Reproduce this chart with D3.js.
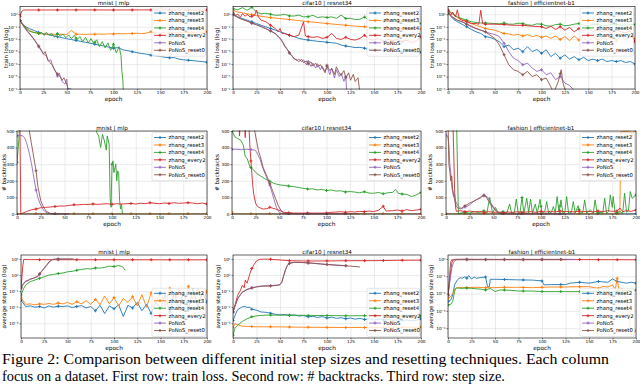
<!DOCTYPE html>
<html><head><meta charset="utf-8">
<script src="https://cdn.jsdelivr.net/npm/d3@7/dist/d3.min.js"></script>
<style>body{margin:0;background:#fff}svg{display:block}</style>
</head><body>
<svg id="c" width="640" height="385"></svg>
<script>
// ---------------- data ----------------
const SERIES = ["zhang_reset2","zhang_reset3","zhang_reset4","zhang_every2","PoNoS","PoNoS_reset0"];
const TITLES = ["mnist | mlp","cifar10 | resnet34","fashion | efficientnet-b1"];
const X_TICKS = [0,25,50,75,100,125,150,175,200];
const LOSS_TICKS = [1,1e-1,1e-2,1e-3,1e-4,1e-5,1e-6];
const BT_TICKS = [0,100,200,300,400,500];
const STEP_TICKS_A = [10,1,0.1,0.01,0.001];
const STEP_TICKS_B = [1,0.1,0.01,0.001,0.0001];
const E5 = [0,5,10,15,20,25,30,35,40,45,50,55,60,65,70,75,80,85,90,95,100,105,110,115,120,125,130,135,140,145,150,155,160,165,170,175,180,185,190,195,200];

// train loss – mnist | mlp
const lossMnist_reset2 = [3.2e-1,1.1e-1,7.1e-2,5.0e-2,3.5e-2,2.8e-2,2.3e-2,1.9e-2,1.6e-2,1.3e-2,1.1e-2,9.3e-3,7.9e-3,6.6e-3,5.6e-3,4.7e-3,4.0e-3,3.3e-3,2.8e-3,2.3e-3,1.9e-3,2.1e-3,1.4e-3,1.2e-3,1.0e-3,8.3e-4,7.1e-4,6.3e-4,5.2e-4,4.7e-4,4.2e-4,3.5e-4,3.2e-4,3.3e-4,2.5e-4,2.2e-4,2.0e-4,1.9e-4,1.7e-4,1.6e-4,1.4e-4];
const lossMnist_reset3 = [3.2e-1,1.0e-1,5.0e-2,3.5e-2,2.8e-2,2.6e-2,2.5e-2,2.5e-2,2.4e-2,2.5e-2,2.4e-2,5.0e-2,2.5e-2,2.5e-2,2.4e-2,2.5e-2,2.5e-2,2.6e-2,2.5e-2,2.7e-2,2.6e-2,2.8e-2,2.7e-2,2.8e-2,2.8e-2,3.0e-2,2.8e-2,3.0e-2,4.0e-2,3.0e-2,3.2e-2,3.2e-2,3.2e-2,3.4e-2,3.2e-2,3.5e-2,3.4e-2,3.5e-2,3.7e-2,3.5e-2,4.0e-2];
const lossMnist_reset4 = [[0,3.2e-1],[3,1.4e-1],[6,8.9e-2],[10,4.5e-2],[14,3.5e-2],[18,3.2e-2],[20,2.8e-2],[23,3.5e-2],[26,2.0e-2],[28,3.5e-2],[31,2.2e-2],[34,2.8e-2],[37,1.4e-2],[40,2.8e-2],[43,1.8e-2],[46,2.5e-2],[49,1.3e-2],[52,2.2e-2],[55,1.1e-2],[58,2.0e-2],[61,8.9e-3],[64,1.6e-2],[67,6.3e-3],[70,1.4e-2],[73,5.0e-3],[76,1.1e-2],[79,4.5e-3],[82,8.9e-3],[85,2.5e-3],[88,6.3e-3],[91,2.0e-3],[94,5.0e-3],[97,1.3e-3],[100,4.0e-3],[103,7.9e-4],[106,2.5e-3],[108,5.0e-4],[109,2.5e-5],[110,5.0e-6],[111,1e-7]];
const lossMnist_every2 = [[0,0.7],[2,1.8],[4,2.2],[30,2.2],[60,2.25],[100,2.2],[140,2.25],[170,2.2],[200,2.2]];
const lossMnist_PoNoS = [[0,3.2e-1],[4,1.0e-1],[8,4.0e-2],[12,1.8e-2],[16,7.1e-3],[20,2.5e-3],[23,1.1e-3],[26,5.6e-4],[28,5.0e-4],[30,1.8e-4],[33,2.2e-4],[35,6.3e-5],[38,2.8e-5],[40,1.1e-5],[42,1.8e-5],[45,4.0e-6],[48,2.5e-6],[50,6.3e-6],[51,1.1e-6],[55,1.0e-6]];
const lossMnist_PoNoS_reset0 = [[0,3.2e-1],[4,1.1e-1],[8,4.5e-2],[12,2.0e-2],[16,7.9e-3],[20,2.8e-3],[23,1.3e-3],[25,6.3e-4],[27,1.0e-3],[30,2.0e-4],[32,1.3e-4],[35,7.9e-5],[37,3.2e-5],[40,1.6e-5],[43,1.0e-5],[45,5.0e-6],[47,7.9e-6],[50,2.5e-6],[52,6.3e-7]];

// train loss – cifar10 | resnet34
const lossCifar_reset2 = [1.13,0.61,0.45,0.33,0.25,0.18,0.13,0.098,0.072,0.053,0.039,0.029,0.021,0.016,0.0115,0.0096,0.0085,0.0076,0.0067,0.0063,0.0056,0.0052,0.0047,0.0034,0.0028,0.0025,0.0021,0.0022,0.0019,0.0015,0.0014,0.0015,0.0012,0.0014,0.001,0.00115,0.001,0.00095,0.001,0.00083,0.00089];
const lossCifar_reset3 = [[0,2.1],[5,1.5],[10,1.3],[15,1.1],[20,0.94],[25,0.78],[30,0.69],[40,0.54],[50,0.45],[60,0.38],[75,0.28],[100,0.18],[125,0.12],[150,0.087],[175,0.072],[200,0.065]];
const lossCifar_reset4 = [2.8,2.3,3.4,2.1,3.6,1.5,1.1,1.2,1.0,0.83,0.85,1.0,0.74,0.72,0.85,0.62,0.64,0.82,0.54,0.62,0.55,0.62,0.46,0.85,0.46,0.47,0.38,0.4,0.6,0.33,0.30,0.31,0.29,0.33,0.29,0.25,0.29,0.24,0.23,0.24,0.18];
const lossCifar_every2 = [[0,1.26],[3,0.83],[5,1.0],[8,0.61],[10,1.13],[13,0.69],[15,1.0],[18,0.61],[20,0.69],[23,0.83],[25,2.1],[27,0.61],[30,0.33],[35,0.25],[40,0.13],[45,0.072],[48,0.04],[50,0.072],[52,0.029],[55,0.029],[60,0.021],[65,0.016],[70,0.021],[75,0.25],[77,0.018],[80,0.016],[85,0.014],[90,0.016],[95,0.0115],[100,0.014],[105,0.029],[110,0.0115],[115,0.0096],[120,0.014],[125,0.0096],[130,0.0085],[135,0.0115],[140,0.021],[145,0.0096],[150,0.0085],[155,0.0115],[160,0.0063],[165,0.0096],[170,0.0076],[175,0.0096],[180,0.0063],[185,0.0085],[190,0.0052],[195,0.0076],[200,0.016]];
const lossCifar_PoNoS = [[0,0.9],[5,0.61],[10,0.4],[15,0.3],[20,0.2],[25,0.15],[30,0.11],[35,0.072],[40,0.047],[45,0.029],[50,0.0115],[53,0.0052],[55,0.0025],[58,0.0014],[60,7.4e-4],[63,4.0e-4],[65,3.0e-4],[68,1.9e-4],[70,2.5e-4],[73,1.6e-4],[75,2.2e-4],[78,8.7e-5],[80,1.6e-4],[83,6.5e-5],[85,1.2e-4],[88,4.8e-5],[90,1.05e-4],[93,3.5e-5],[95,6.5e-5],[98,2.6e-5],[100,6.5e-5],[103,1.4e-5],[105,4.8e-5],[108,7.6e-6],[110,3.5e-5],[113,1.0e-5],[115,1.9e-5],[118,4.1e-6],[120,1.0e-5],[121,5e-7]];
const lossCifar_PoNoS_reset0 = [[0,0.9],[5,0.55],[10,0.38],[15,0.28],[20,0.19],[25,0.14],[30,0.1],[35,0.068],[40,0.045],[45,0.027],[50,0.012],[53,0.006],[55,0.003],[58,0.0015],[60,8e-4],[63,4.5e-4],[65,2.6e-4],[68,2.2e-4],[70,1.6e-4],[73,2.4e-4],[75,1.3e-4],[78,1.8e-4],[80,1.0e-4],[83,1.5e-4],[85,7e-5],[88,1.2e-4],[90,6e-5],[93,9e-5],[95,5e-5],[98,2e-5],[100,8e-5],[103,3e-5],[105,4.5e-5],[108,1.5e-5],[110,6e-5],[113,2e-5],[115,1.2e-5],[118,3e-5],[120,8e-6],[123,2e-5],[125,5e-6],[128,1.5e-5],[130,4e-6],[133,8e-6],[135,5e-7]];

// train loss – fashion | efficientnet-b1
const lossFashion_reset2 = [1.5,0.45,0.25,0.16,0.098,0.06,0.039,0.029,0.016,0.014,0.0096,0.0063,0.0025,0.0034,0.0014,0.0019,0.001,0.0025,0.001,0.0015,7.4e-4,0.0014,4.0e-4,7.4e-4,3.0e-4,5.5e-4,2.5e-4,4.0e-4,2.2e-4,3.5e-4,1.9e-4,2.5e-4,1.9e-4,2.5e-4,1.6e-4,1.9e-4,1.6e-4,1.9e-4,1.35e-4,1.6e-4,1.0e-4];
const lossFashion_reset3 = [2.1,1.0,0.54,0.38,0.28,0.18,0.13,0.098,0.072,0.06,0.053,0.039,0.029,0.026,0.021,0.024,0.018,0.023,0.016,0.02,0.014,0.018,0.0115,0.018,0.0096,0.016,0.0076,0.018,0.0085,0.014,0.0063,0.016,0.0085,0.014,0.0096,0.016,0.0076,0.018,0.0096,0.014,0.0115];
const lossFashion_reset4 = [2.1,1.1,0.61,0.45,0.33,0.25,0.22,0.2,0.2,0.19,0.18,0.17,0.2,0.16,0.16,0.19,0.18,0.14,0.13,0.17,0.16,0.12,0.11,0.15,0.16,0.12,0.13,0.16,0.18,0.12,0.125,0.15,0.16,0.12,0.13,0.15,0.16,0.13,0.13,0.15,0.15];
const lossFashion_every2 = [[0,2.1],[3,0.83],[5,1.5],[8,0.61],[10,2.3],[12,0.45],[15,0.33],[20,0.25],[25,0.18],[30,0.18],[33,0.16],[35,2.1],[37,0.18],[40,0.16],[50,0.16],[60,0.15],[70,0.13],[80,0.13],[90,0.11],[100,0.098],[105,0.072],[110,0.11],[115,0.06],[120,0.098],[125,0.053],[130,0.087],[135,0.039],[140,0.072],[145,0.047],[150,0.087],[155,0.039],[160,0.06],[165,0.039],[170,0.053],[175,0.029],[180,0.06],[185,0.039],[190,0.033],[195,0.047],[200,0.0063]];
const lossFashion_PoNoS = [1.26,0.61,0.33,0.25,0.16,0.098,0.072,0.053,0.039,0.029,0.024,0.016,0.0047,0.001,3.0e-4,1.9e-4,8.7e-5,1.2e-4,4.8e-5,2.6e-5,3.5e-5,1.4e-5,2.0e-5,5.6e-6,1.0e-5,3.0e-6,1.9e-6,8e-7];
const lossFashion_PoNoS_reset0 = [[0,1.13],[5,0.54],[10,0.33],[15,0.25],[20,0.16],[25,0.11],[30,0.072],[35,0.053],[40,0.039],[45,0.021],[50,0.0115],[55,0.0034],[60,5.5e-4],[65,8.7e-5],[70,3.5e-5],[75,2.6e-5],[80,1.4e-5],[85,2.6e-5],[90,1.0e-5],[95,1.4e-5],[100,5.6e-6],[105,7.6e-6],[110,1.5e-6],[113,5e-7],[118,4e-6],[121,3.5e-5],[123,3e-6],[126,5e-7]];

// # backtracks – mnist | mlp
const btMnist_reset2 = [[0,0],[200,0]];
const btMnist_reset3 = [[0,0],[200,0]];
const btMnist_reset4 = [[0,310],[2,450],[3,600],[83,600],[84,490],[86,470],[88,400],[90,480],[92,440],[94,385],[95,470],[97,420],[98,100],[99,40],[100,300],[101,320],[102,250],[104,300],[105,200],[106,260],[107,250],[108,80],[109,30],[110,60],[111,0]];
const btMnist_every2 = [[0,600],[3,600],[4,0],[6,5],[10,15],[15,25],[20,30],[25,38],[30,40],[35,42],[40,45],[45,48],[50,48],[55,52],[60,55],[65,55],[70,58],[75,57],[80,60],[85,58],[90,60],[95,62],[100,58],[105,62],[110,60],[115,62],[120,64],[125,60],[130,65],[135,62],[140,68],[145,64],[150,62],[155,66],[160,64],[165,68],[170,64],[175,66],[180,68],[185,66],[190,62],[195,66],[200,60]];
const btMnist_PoNoS = [[0,470],[3,475],[6,470],[8,460],[10,430],[13,365],[15,310],[17,245],[20,145],[22,100],[24,66],[27,30],[29,16],[33,3],[36,0],[55,0]];
const btMnist_PoNoS_reset0 = [[0,600],[12,600],[13,500],[15,430],[17,365],[20,260],[22,165],[25,80],[28,40],[31,16],[35,3],[38,0],[55,0]];

// # backtracks – cifar10 | resnet34
const btCifar_reset2 = [[0,0],[200,0]];
const btCifar_reset3 = [[0,10],[2,2],[4,0],[200,0]];
const btCifar_reset4 = [[0,500],[3,465],[6,455],[9,445],[12,415],[14,345],[16,335],[19,285],[23,265],[26,245],[30,230],[34,215],[37,205],[41,195],[44,185],[47,180],[51,175],[55,172],[60,168],[65,165],[70,160],[75,155],[80,150],[85,152],[90,145],[95,148],[100,141],[105,145],[110,138],[115,140],[120,133],[125,135],[130,132],[135,128],[140,134],[145,126],[150,125],[155,130],[160,122],[165,128],[170,130],[173,148],[176,125],[180,120],[185,118],[190,105],[195,115],[200,130]];
const btCifar_every2 = [[0,600],[7,600],[8,470],[9,600],[13,600],[14,460],[15,600],[18,520],[19,400],[20,320],[22,170],[23,120],[25,65],[27,45],[30,36],[33,30],[37,32],[40,40],[43,35],[46,30],[50,22],[55,10],[60,8],[65,6],[70,5],[80,6],[90,5],[100,6],[105,10],[110,12],[115,14],[120,10],[125,14],[130,12],[135,16],[140,14],[145,18],[150,15],[155,22],[160,46],[163,18],[170,20],[175,24],[180,18],[185,26],[190,20],[195,24],[200,28]];
const btCifar_PoNoS = [[0,390],[5,390],[10,388],[15,390],[20,388],[24,385],[26,375],[30,325],[33,270],[37,215],[40,175],[44,96],[47,40],[50,10],[53,2],[56,0],[121,0]];
const btCifar_PoNoS_reset0 = [[0,600],[22,600],[24,500],[28,380],[30,345],[33,280],[36,240],[40,185],[43,140],[46,95],[49,50],[52,20],[55,5],[58,0],[135,0]];

// # backtracks – fashion | efficientnet-b1
const btFashion_reset2 = [[0,0],[200,0]];
const btFashion_reset3 = [[0,0],[183,0],[184,495],[190,498],[195,492],[196,460],[197,495],[200,498]];
const btFashion_reset4 = [[0,600],[11,600],[12,300],[13,0],[15,5],[20,10],[25,5],[30,15],[35,8],[40,20],[43,5],[46,100],[49,5],[52,40],[55,5],[60,15],[64,5],[67,60],[69,5],[72,10],[74,90],[76,5],[78,10],[80,100],[82,5],[85,95],[87,8],[89,90],[91,5],[94,60],[96,5],[99,88],[101,5],[104,15],[106,75],[108,5],[111,10],[113,45],[115,8],[117,105],[119,10],[121,85],[123,5],[125,10],[127,105],[129,5],[132,10],[134,75],[136,5],[139,50],[141,5],[144,10],[146,85],[148,5],[152,25],[155,5],[157,85],[159,5],[162,10],[165,5],[167,95],[169,5],[171,15],[173,115],[175,40],[176,105],[178,5],[181,10],[183,15],[186,5],[188,125],[190,10],[192,20],[194,135],[196,95],[198,105],[200,115]];
const btFashion_every2 = [[0,600],[7,600],[8,400],[9,150],[10,40],[11,16],[15,20],[20,14],[25,18],[30,12],[35,16],[40,10],[45,14],[50,10],[55,12],[60,8],[65,12],[70,10],[75,14],[80,10],[85,12],[90,14],[95,10],[100,16],[105,12],[110,16],[115,12],[120,18],[125,14],[130,16],[135,12],[140,18],[145,14],[150,16],[155,12],[160,18],[165,14],[170,20],[175,16],[180,18],[183,36],[186,14],[190,20],[195,16],[200,24]];
const btFashion_PoNoS = [[0,474],[2,464],[3,420],[4,300],[5,250],[6,170],[7,130],[8,105],[9,120],[10,80],[11,66],[13,50],[15,36],[17,30],[19,40],[22,46],[25,56],[29,76],[32,86],[36,100],[38,110],[40,115],[42,108],[44,100],[46,76],[48,60],[50,42],[53,16],[57,6],[60,0],[135,0]];
const btFashion_PoNoS_reset0 = [[0,600],[2,600],[3,300],[4,260],[5,200],[6,230],[7,150],[8,120],[9,90],[11,42],[13,35],[15,30],[18,42],[22,56],[25,66],[29,76],[32,86],[36,96],[39,110],[41,110],[43,96],[46,66],[50,36],[53,16],[57,2],[60,0],[126,0]];

// average step size – mnist | mlp
const stepMnist_reset2 = [0.028,0.011,0.012,0.01,0.011,0.009,0.012,0.01,0.0115,0.011,0.012,0.0095,0.011,0.0125,0.009,0.011,0.006,0.013,0.004,0.012,0.008,0.014,0.0026,0.013,0.009,0.02,0.006,0.015,0.004,0.02,0.008,0.06,0.005,0.08,0.007,0.1,0.006,0.15,0.01,0.08,0.02];
const stepMnist_reset3 = [0.04,0.015,0.016,0.014,0.016,0.015,0.017,0.015,0.018,0.016,0.02,0.015,0.022,0.016,0.025,0.015,0.03,0.014,0.05,0.016,0.04,0.012,0.035,0.02,0.045,0.012,0.06,0.01,0.08,0.015,0.1,0.012,0.15,0.02,0.12,0.015,0.2,0.03,0.15,0.02,0.1];
const stepMnist_reset4 = [[0,0.057],[3,0.15],[5,0.24],[10,0.39],[15,0.49],[20,0.63],[25,0.79],[30,1.0],[35,1.1],[40,1.25],[45,1.35],[50,1.6],[55,1.7],[60,2.0],[65,2.2],[70,2.5],[75,2.4],[80,2.8],[85,2.7],[90,3.0],[95,3.6],[100,3.4],[105,3.9],[108,3.5],[110,3.0],[112,2.0]];
const stepMnist_every2 = [[0,0.15],[2,4],[3,9.5],[10,9.2],[50,9.0],[100,9.0],[150,8.9],[200,8.9]];
const stepMnist_PoNoS = [[0,0.19],[3,0.31],[5,0.43],[8,0.49],[10,0.57],[13,0.63],[15,0.69],[18,0.79],[20,1.1],[22,1.6],[25,2.6],[28,4.2],[30,6.2],[33,8.7],[35,9.5],[40,10],[45,10],[50,10],[55,10]];
const stepMnist_PoNoS_reset0 = [[0,0.17],[3,0.29],[5,0.4],[8,0.47],[10,0.55],[13,0.62],[15,0.7],[18,0.85],[20,1.2],[22,1.7],[25,2.8],[28,4.5],[30,6.5],[33,9],[35,9.6],[40,10],[50,10],[57,10]];

// average step size – cifar10 | resnet34
const stepCifar_reset2 = [[0,0.0015],[3,0.004],[5,0.007],[8,0.009],[10,0.0105],[13,0.011],[15,0.0095],[18,0.01],[20,0.0075],[25,0.0065],[30,0.005],[35,0.0048],[40,0.0042],[45,0.0036],[50,0.0033],[55,0.0035],[60,0.0031],[65,0.0033],[70,0.0028],[75,0.003],[80,0.0025],[85,0.0027],[90,0.0023],[95,0.0026],[100,0.0021],[105,0.0024],[110,0.002],[115,0.0022],[120,0.0019],[125,0.0021],[130,0.0018],[135,0.002],[140,0.0017],[145,0.0019],[150,0.0016],[155,0.0018],[160,0.0016],[165,0.0017],[170,0.0015],[175,0.0016],[180,0.0015],[185,0.0016],[190,0.0014],[195,0.0015],[200,0.0019]];
const stepCifar_reset3 = [[0,5.5e-4],[2,9.5e-4],[5,8.0e-4],[10,6.5e-4],[25,6.0e-4],[50,5.9e-4],[75,5.6e-4],[100,5.5e-4],[125,5.4e-4],[150,5.5e-4],[175,5.6e-4],[200,5.7e-4]];
const stepCifar_reset4 = [[0,1.8e-4],[2,4.7e-4],[5,7.4e-4],[10,0.0013],[15,0.0019],[20,0.0025],[25,0.0029],[35,0.0032],[50,0.0032],[75,0.0031],[100,0.003],[125,0.0029],[150,0.003],[175,0.0029],[200,0.0028]];
const stepCifar_every2 = [[0,0.005],[3,0.021],[5,0.056],[8,0.115],[10,0.23],[12,0.16],[13,0.49],[15,0.31],[17,0.79],[18,1.26],[20,2.6],[22,4.2],[25,7.5],[28,9.5],[35,10],[40,9.6],[50,8.7],[60,7.9],[75,7.5],[100,7.6],[125,7.9],[150,7.9],[175,8.3],[200,8.5]];
const stepCifar_PoNoS = [[0,0.005],[3,0.017],[5,0.035],[8,0.062],[10,0.09],[15,0.13],[20,0.16],[25,0.19],[30,0.21],[40,0.22],[48,0.24],[50,0.26],[52,0.4],[54,1.0],[56,2.4],[58,4.3],[60,5.5],[65,6.3],[75,6.0],[85,5.5],[100,4.6],[110,4.2],[121,3.9]];
const stepCifar_PoNoS_reset0 = [[0,0.005],[3,0.016],[5,0.033],[8,0.06],[10,0.085],[15,0.125],[20,0.155],[25,0.18],[30,0.2],[40,0.21],[48,0.23],[50,0.25],[52,0.35],[54,0.9],[56,2.2],[58,4.0],[60,5.3],[65,6.2],[75,6.0],[85,5.4],[100,4.5],[110,4.1],[125,3.6],[135,3.2]];

// average step size – fashion | efficientnet-b1
const stepFashion_reset2 = [[0,0.0035],[3,0.0043],[5,0.0083],[7,0.032],[10,0.062],[13,0.083],[15,0.076],[18,0.095],[20,0.076],[22,0.11],[25,0.07],[28,0.09],[30,0.076],[35,0.085],[40,0.09],[42,0.025],[44,0.025],[45,0.067],[50,0.067],[60,0.065],[75,0.062],[90,0.06],[100,0.054],[102,0.032],[110,0.033],[125,0.033],[130,0.04],[140,0.045],[150,0.04],[160,0.05],[170,0.045],[175,0.07],[180,0.05],[190,0.04],[195,0.045],[200,0.04]];
const stepFashion_reset3 = [[0,0.0054],[3,0.0068],[5,0.0105],[8,0.02],[10,0.022],[20,0.022],[30,0.023],[40,0.022],[50,0.022],[60,0.023],[75,0.023],[90,0.022],[100,0.023],[110,0.024],[125,0.024],[140,0.025],[150,0.025],[160,0.02],[165,0.026],[170,0.024],[175,0.032],[178,0.017],[180,0.077],[182,0.013],[185,0.02],[188,0.0084],[190,0.0035],[193,2.4e-4],[195,4.1e-5],[198,6e-5],[200,7e-5]];
const stepFashion_reset4 = [[0,0.0022],[3,0.0024],[5,0.0035],[7,0.013],[8,0.02],[10,0.021],[15,0.02],[20,0.021],[25,0.02],[30,0.019],[35,0.018],[40,0.016],[45,0.02],[50,0.013],[55,0.016],[60,0.016],[70,0.015],[75,0.014],[90,0.014],[100,0.013],[125,0.013],[150,0.013],[175,0.013],[200,0.016]];
const stepFashion_every2 = [[0,0.0083],[2,0.076],[4,0.56],[5,0.85],[8,0.95],[20,0.95],[50,0.93],[100,0.92],[150,0.92],[200,0.9]];
const stepFashion_PoNoS = [[0,0.0083],[2,0.05],[4,0.3],[6,0.65],[8,0.85],[10,0.95],[135,0.95]];
const stepFashion_PoNoS_reset0 = [[0,0.0083],[1,0.03],[2,0.2],[3,0.7],[4,0.9],[126,0.92]];

// ---------------- layout ----------------
const COLORS = ["#1f77b4","#ff7f0e","#2ca02c","#d62728","#9467bd","#8c564b"];
const GEOM = [
  [[20,207],[233,421],[448,635]],
  [[17,207],[232,421],[446,636]],
  [[21,207],[233,421],[448,636]]
];
const ROWY = [[6.5,89],[131,214],[255,338]];
const YLABX = [[6,217,432],[4,217,430],[4,218,431]];
const LEGX = [152,367,580];
const FONT = "DejaVu Sans, sans-serif";

const PANELS = [
  {r:0,c:0,data:[lossMnist_reset2,lossMnist_reset3,lossMnist_reset4,lossMnist_every2,lossMnist_PoNoS,lossMnist_PoNoS_reset0]},
  {r:0,c:1,data:[lossCifar_reset2,lossCifar_reset3,lossCifar_reset4,lossCifar_every2,lossCifar_PoNoS,lossCifar_PoNoS_reset0]},
  {r:0,c:2,data:[lossFashion_reset2,lossFashion_reset3,lossFashion_reset4,lossFashion_every2,lossFashion_PoNoS,lossFashion_PoNoS_reset0]},
  {r:1,c:0,data:[btMnist_reset2,btMnist_reset3,btMnist_reset4,btMnist_every2,btMnist_PoNoS,btMnist_PoNoS_reset0]},
  {r:1,c:1,data:[btCifar_reset2,btCifar_reset3,btCifar_reset4,btCifar_every2,btCifar_PoNoS,btCifar_PoNoS_reset0]},
  {r:1,c:2,data:[btFashion_reset2,btFashion_reset3,btFashion_reset4,btFashion_every2,btFashion_PoNoS,btFashion_PoNoS_reset0]},
  {r:2,c:0,data:[stepMnist_reset2,stepMnist_reset3,stepMnist_reset4,stepMnist_every2,stepMnist_PoNoS,stepMnist_PoNoS_reset0]},
  {r:2,c:1,data:[stepCifar_reset2,stepCifar_reset3,stepCifar_reset4,stepCifar_every2,stepCifar_PoNoS,stepCifar_PoNoS_reset0]},
  {r:2,c:2,data:[stepFashion_reset2,stepFashion_reset3,stepFashion_reset4,stepFashion_every2,stepFashion_PoNoS,stepFashion_PoNoS_reset0]}
];

const SUP = {"-":"\u207B","0":"\u2070","1":"\u00B9","2":"\u00B2","3":"\u00B3","4":"\u2074","5":"\u2075","6":"\u2076","7":"\u2077","8":"\u2078","9":"\u2079"};
const supFmt = v => "10" + String(Math.round(Math.log10(v))).split("").map(ch => SUP[ch]).join("");
const toPts = s => (typeof s[0] === "number") ? s.map((v,i) => [E5[i], v]) : s;

const svg = d3.select("#c");
const defs = svg.append("defs");

PANELS.forEach((p, idx) => {
  const [x0, x1] = GEOM[p.r][p.c];
  const [y0, y1] = ROWY[p.r];
  const x = d3.scaleLinear().domain([0, 200]).range([x0, x1]);
  let y, ticks, fmt, ylab;
  if (p.r === 0) {
    y = d3.scaleLog().domain([1e-6, 4.2]).range([y1, y0]);
    ticks = LOSS_TICKS; fmt = supFmt; ylab = "train loss (log)";
  } else if (p.r === 1) {
    y = d3.scaleLinear().domain([0, 500]).range([y1, y0]);
    ticks = BT_TICKS; fmt = d3.format("d"); ylab = "# backtracks";
  } else {
    y = p.c < 2 ? d3.scaleLog().domain([1.2e-4, 17.8]).range([y1, y0])
                : d3.scaleLog().domain([2.7e-5, 1.7]).range([y1, y0]);
    ticks = p.c < 2 ? STEP_TICKS_A : STEP_TICKS_B; fmt = supFmt; ylab = "average step size (log)";
  }
  const g = svg.append("g");

  // grid
  const gridStyle = s => { s.select(".domain").remove(); s.selectAll("line").attr("stroke", "#dedede").attr("stroke-width", 0.6); };
  g.append("g").attr("transform", `translate(0,${y1})`)
    .call(d3.axisBottom(x).tickValues(X_TICKS).tickSize(-(y1 - y0)).tickFormat(""))
    .call(gridStyle);
  g.append("g").attr("transform", `translate(${x0},0)`)
    .call(d3.axisLeft(y).tickValues(ticks).tickSize(-(x1 - x0)).tickFormat(""))
    .call(gridStyle);

  // lines
  const cid = "clip" + idx;
  defs.append("clipPath").attr("id", cid).append("rect")
    .attr("x", x0).attr("y", y0 - 0.5).attr("width", x1 - x0).attr("height", y1 - y0 + 1);
  const lg = g.append("g").attr("clip-path", `url(#${cid})`);
  const line = d3.line().x(d => x(d[0])).y(d => y(d[1]));
  p.data.forEach((s, k) => {
    const pts = toPts(s);
    lg.append("path").attr("d", line(pts)).attr("fill", "none")
      .attr("stroke", COLORS[k]).attr("stroke-width", 0.9).attr("stroke-linejoin", "round");
    // markers placed along the drawn line every 20 epochs
    const last = pts[pts.length - 1][0];
    for (let m = 0; m <= last; m += 20) {
      let j = 0;
      while (j < pts.length - 2 && pts[j + 1][0] < m) j++;
      const a = pts[j], b = pts[Math.min(j + 1, pts.length - 1)];
      const t = b[0] === a[0] ? 0 : (m - a[0]) / (b[0] - a[0]);
      const px = x(m), py = y(a[1]) + (y(b[1]) - y(a[1])) * t;
      lg.append("path").attr("d", d3.symbol(d3.symbolCross, 5)())
        .attr("transform", `translate(${px},${py})`).attr("fill", COLORS[k]);
    }
  });

  // frame
  g.append("rect").attr("x", x0).attr("y", y0).attr("width", x1 - x0).attr("height", y1 - y0)
    .attr("fill", "none").attr("stroke", "#000").attr("stroke-width", 0.6);

  // axes
  const ax = g.append("g").attr("transform", `translate(0,${y1})`)
    .call(d3.axisBottom(x).tickValues(X_TICKS).tickSize(1.5).tickSizeOuter(0).tickPadding(1));
  const ay = g.append("g").attr("transform", `translate(${x0},0)`)
    .call(d3.axisLeft(y).tickValues(ticks).tickFormat(fmt).tickSize(1.5).tickSizeOuter(0).tickPadding(1));
  [ax, ay].forEach(a => {
    a.select(".domain").remove();
    a.selectAll("line").attr("stroke", "#000").attr("stroke-width", 0.5);
    a.selectAll("text").attr("font-family", FONT).attr("font-size", 4.2).attr("fill", "#000");
  });

  // titles and labels
  g.append("text").attr("x", (x0 + x1) / 2).attr("y", y0 - 1.5).attr("text-anchor", "middle")
    .attr("font-family", FONT).attr("font-size", 5.6).text(TITLES[p.c]);
  g.append("text").attr("x", (x0 + x1) / 2).attr("y", y1 + 12).attr("text-anchor", "middle")
    .attr("font-family", FONT).attr("font-size", 5.8).text("epoch");
  g.append("text").attr("transform", `translate(${YLABX[p.r][p.c] + 2},${(y0 + y1) / 2}) rotate(-90)`)
    .attr("text-anchor", "middle").attr("font-family", FONT).attr("font-size", 5.6).text(ylab);

  // legend
  const lx = LEGX[p.c], lw = x1 - 1.5 - lx, step = 7.45, lh = step * 6 + 3.5;
  const ly = p.r === 2 ? y1 - 1.5 - lh : y0 + 1.5;
  const leg = g.append("g");
  leg.append("rect").attr("x", lx).attr("y", ly).attr("width", lw).attr("height", lh).attr("rx", 1.5)
    .attr("fill", "#fff").attr("fill-opacity", 0.8).attr("stroke", "#cccccc").attr("stroke-width", 0.5);
  SERIES.forEach((name, k) => {
    const cy = ly + 5 + k * step;
    leg.append("line").attr("x1", lx + 2).attr("x2", lx + 14).attr("y1", cy).attr("y2", cy)
      .attr("stroke", COLORS[k]).attr("stroke-width", 0.9);
    leg.append("path").attr("d", d3.symbol(d3.symbolCross, 5)())
      .attr("transform", `translate(${lx + 8},${cy})`).attr("fill", COLORS[k]);
    leg.append("text").attr("x", lx + 16.5).attr("y", cy + 1.9).attr("font-family", FONT)
      .attr("font-size", 5.3).attr("fill", "#000").text(name);
  });
});

// caption
const cap = svg.append("g").attr("font-family", "Liberation Serif, Times New Roman, serif").attr("font-size", 14.4).attr("fill", "#000");
cap.append("text").attr("x", 2).attr("y", 364).attr("textLength", 607).attr("lengthAdjust", "spacingAndGlyphs")
  .text("Figure 2: Comparison between different initial step sizes and resetting techniques. Each column");
cap.append("text").attr("x", 2).attr("y", 381)
  .text("focus on a dataset. First row: train loss. Second row: # backtracks. Third row: step size.");
</script>
</body></html>
